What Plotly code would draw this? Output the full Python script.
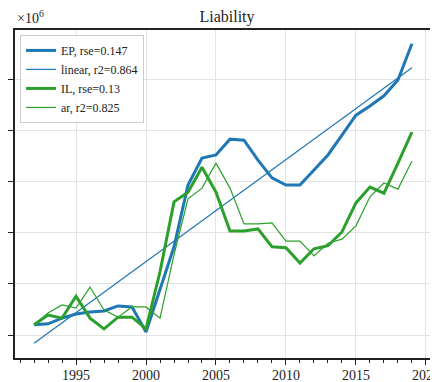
import plotly.graph_objects as go

years = list(range(1992, 2020))

# values in units of 10^6
ep = [1.20, 1.22, 1.33, 1.41, 1.45, 1.47, 1.57, 1.55, 1.06, 1.88, 2.73, 3.94, 4.47, 4.53,
      4.84, 4.82, 4.43, 4.08, 3.94, 3.94, 4.24, 4.53, 4.92, 5.31, 5.49, 5.69, 6.00, 6.71]
il = [1.20, 1.39, 1.33, 1.76, 1.33, 1.12, 1.35, 1.35, 1.12, 2.24, 3.61, 3.80, 4.29, 3.80,
      3.04, 3.04, 3.08, 2.73, 2.71, 2.41, 2.69, 2.75, 3.02, 3.59, 3.90, 3.78, 4.37, 4.98]
ar = [1.20, 1.43, 1.59, 1.53, 1.94, 1.49, 1.35, 1.55, 1.55, 1.33, 2.57, 3.67, 3.88, 4.37,
      3.88, 3.18, 3.18, 3.20, 2.84, 2.84, 2.55, 2.80, 2.88, 3.14, 3.71, 3.98, 3.86, 4.41]
lin_years = [1992, 2019]
lin = [0.84, 6.24]

names = ["EP, rse=0.147", "linear, r2=0.864", "IL, rse=0.13", "ar, r2=0.825"]

blue = "#1f77b4"
green = "#2ca02c"
font = "Liberation Serif"

fig = go.Figure()
fig.add_trace(go.Scatter(x=years, y=ep, mode="lines", name=names[0],
                         line=dict(color=blue, width=3)))
fig.add_trace(go.Scatter(x=lin_years, y=lin, mode="lines", name=names[1],
                         line=dict(color=blue, width=1.2)))
fig.add_trace(go.Scatter(x=years, y=il, mode="lines", name=names[2],
                         line=dict(color=green, width=3)))
fig.add_trace(go.Scatter(x=years, y=ar, mode="lines", name=names[3],
                         line=dict(color=green, width=1.2)))

# page body adds an 8px offset, so margins are shifted to compensate
fig.update_layout(
    width=438, height=382,
    margin=dict(l=7, r=16, t=22, b=32),
    paper_bgcolor="white", plot_bgcolor="white",
    font=dict(family=font, size=14, color="#222"),
    title=dict(text="Liability", x=0.5, xanchor="center", y=0.977, yanchor="middle",
               font=dict(family=font, size=16, color="#222"), automargin=False),
    showlegend=True,
    legend=dict(x=0.012, y=0.985, xanchor="left", yanchor="top",
                bgcolor="rgba(255,255,255,0.85)", bordercolor="#cccccc", borderwidth=1,
                font=dict(family=font, size=12, color="#222"),
                tracegroupgap=0, itemwidth=30),
    xaxis=dict(range=[1990.64, 2020.29], tick0=1990, dtick=5, ticks="outside",
               ticklen=5, tickwidth=1.2, tickcolor="#222", automargin=False,
               ticklabelstandoff=-2,
               showgrid=True, gridcolor="#e3e3e3", gridwidth=1,
               showline=True, linecolor="#222", linewidth=1.6, mirror=True,
               zeroline=False,
               minor=dict(dtick=1, tick0=1990, ticks="outside", ticklen=3,
                          tickcolor="#222", showgrid=False)),
    yaxis=dict(range=[0.549, 6.98], tick0=0, dtick=1, ticks="outside",
               ticklen=5, tickwidth=1.2, tickcolor="#222", showticklabels=False,
               automargin=False,
               showgrid=True, gridcolor="#e3e3e3", gridwidth=1,
               showline=True, linecolor="#222", linewidth=1.6, mirror=True,
               zeroline=False),
)

fig.add_annotation(text="×10<sup>6</sup>", xref="paper", yref="paper",
                   x=0, y=1.0, xanchor="left", yanchor="bottom", yshift=2,
                   showarrow=False, font=dict(family=font, size=14, color="#222"))

fig.write_html("out.html")
